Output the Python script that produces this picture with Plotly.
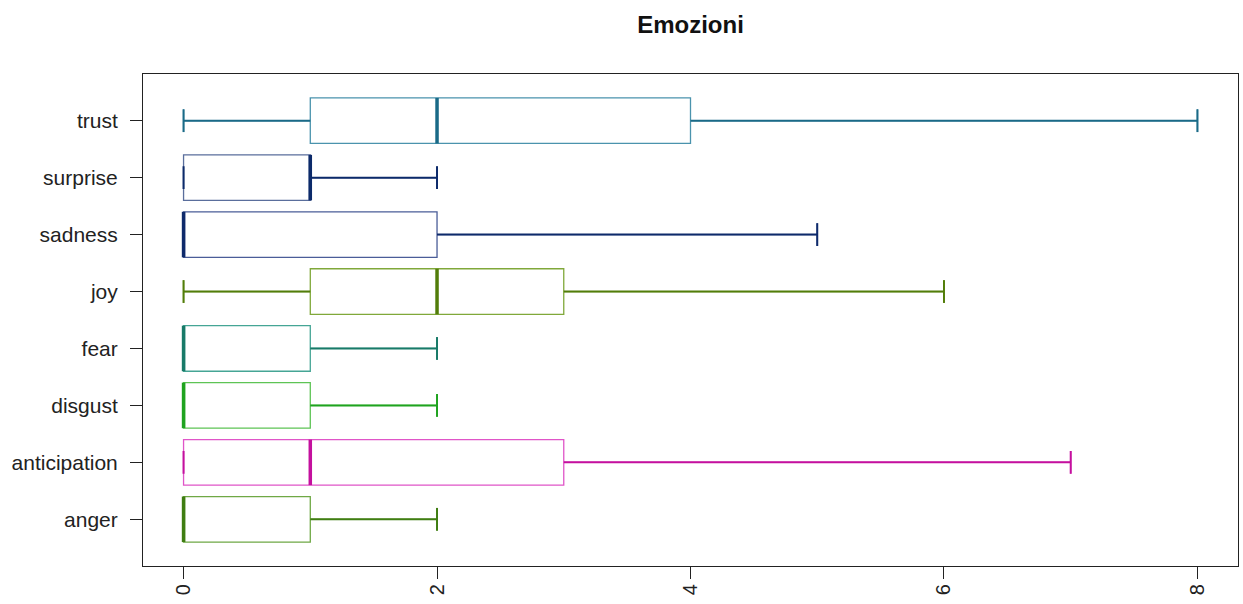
import plotly.graph_objects as go

categories = ["anger", "anticipation", "disgust", "fear", "joy", "sadness", "surprise", "trust"]
lower_whisker = [0, 0, 0, 0, 0, 0, 0, 0]
q1_values = [0, 0, 0, 0, 1, 0, 0, 1]
median_values = [0, 1, 0, 0, 2, 0, 1, 2]
q3_values = [1, 3, 1, 1, 3, 2, 1, 4]
upper_whisker = [2, 7, 2, 2, 6, 5, 2, 8]
x_ticks = [0, 2, 4, 6, 8]

border_colors = ["#6fa845", "#e055c8", "#5ec455", "#45a595", "#80a83a", "#4a5d98", "#5a6e9c", "#4a93ad"]
dark_colors = ["#3f7d12", "#c4109e", "#1fa31f", "#187a68", "#527d0a", "#0e2a6b", "#0c2a6a", "#1a6a87"]

BOX_W = 0.8
CAP_W = 0.4

fig = go.Figure()
for i, cat in enumerate(categories):
    pos = i + 1
    fig.add_trace(go.Box(
        y=[pos], q1=[q1_values[i]], median=[median_values[i]], q3=[q3_values[i]],
        lowerfence=[lower_whisker[i]], upperfence=[upper_whisker[i]],
        orientation="h", width=BOX_W, whiskerwidth=0.5,
        line=dict(color=border_colors[i], width=1.3),
        fillcolor="rgba(255,255,255,0)", boxpoints=False, showlegend=False,
        hoverinfo="skip",
    ))
    # whiskers and staples in darker colour
    xs = [lower_whisker[i], q1_values[i], None, q3_values[i], upper_whisker[i], None,
          lower_whisker[i], lower_whisker[i], None, upper_whisker[i], upper_whisker[i]]
    ys = [pos, pos, None, pos, pos, None,
          pos - CAP_W / 2, pos + CAP_W / 2, None, pos - CAP_W / 2, pos + CAP_W / 2]
    fig.add_trace(go.Scatter(x=xs, y=ys, mode="lines",
                             line=dict(color=dark_colors[i], width=2),
                             showlegend=False, hoverinfo="skip"))
    # thick median
    fig.add_trace(go.Scatter(x=[median_values[i], median_values[i]],
                             y=[pos - BOX_W / 2, pos + BOX_W / 2], mode="lines",
                             line=dict(color=dark_colors[i], width=3.5),
                             showlegend=False, hoverinfo="skip"))

fig.update_layout(
    width=1243, height=604,
    margin=dict(l=143, r=5, t=74, b=38),
    paper_bgcolor="white", plot_bgcolor="white",
    font=dict(family="Liberation Sans, Arial, sans-serif", color="#222222", size=20),
    title=dict(text="<b>Emozioni</b>", x=0.5, xref="paper",
               xanchor="center", y=1 - 25 / 604, yanchor="middle",
               font=dict(size=24, color="#111111")),
    xaxis=dict(range=[-0.32, 8.32], tickvals=x_ticks, ticktext=[str(v) for v in x_ticks],
               tickangle=-90, ticks="outside", ticklen=12, tickcolor="#222222",
               showgrid=False, zeroline=False, showline=True, linecolor="#222222",
               linewidth=1, mirror=True, ticklabelstandoff=-3,
               tickfont=dict(size=20)),
    yaxis=dict(range=[0.18, 8.82], tickvals=list(range(1, len(categories) + 1)),
               ticktext=categories, ticks="outside", ticklen=12, tickcolor="#222222",
               showgrid=False, zeroline=False, showline=True, linecolor="#222222",
               linewidth=1, mirror=True, ticklabelstandoff=8,
               tickfont=dict(size=21)),
)

fig.write_html("out.html")
